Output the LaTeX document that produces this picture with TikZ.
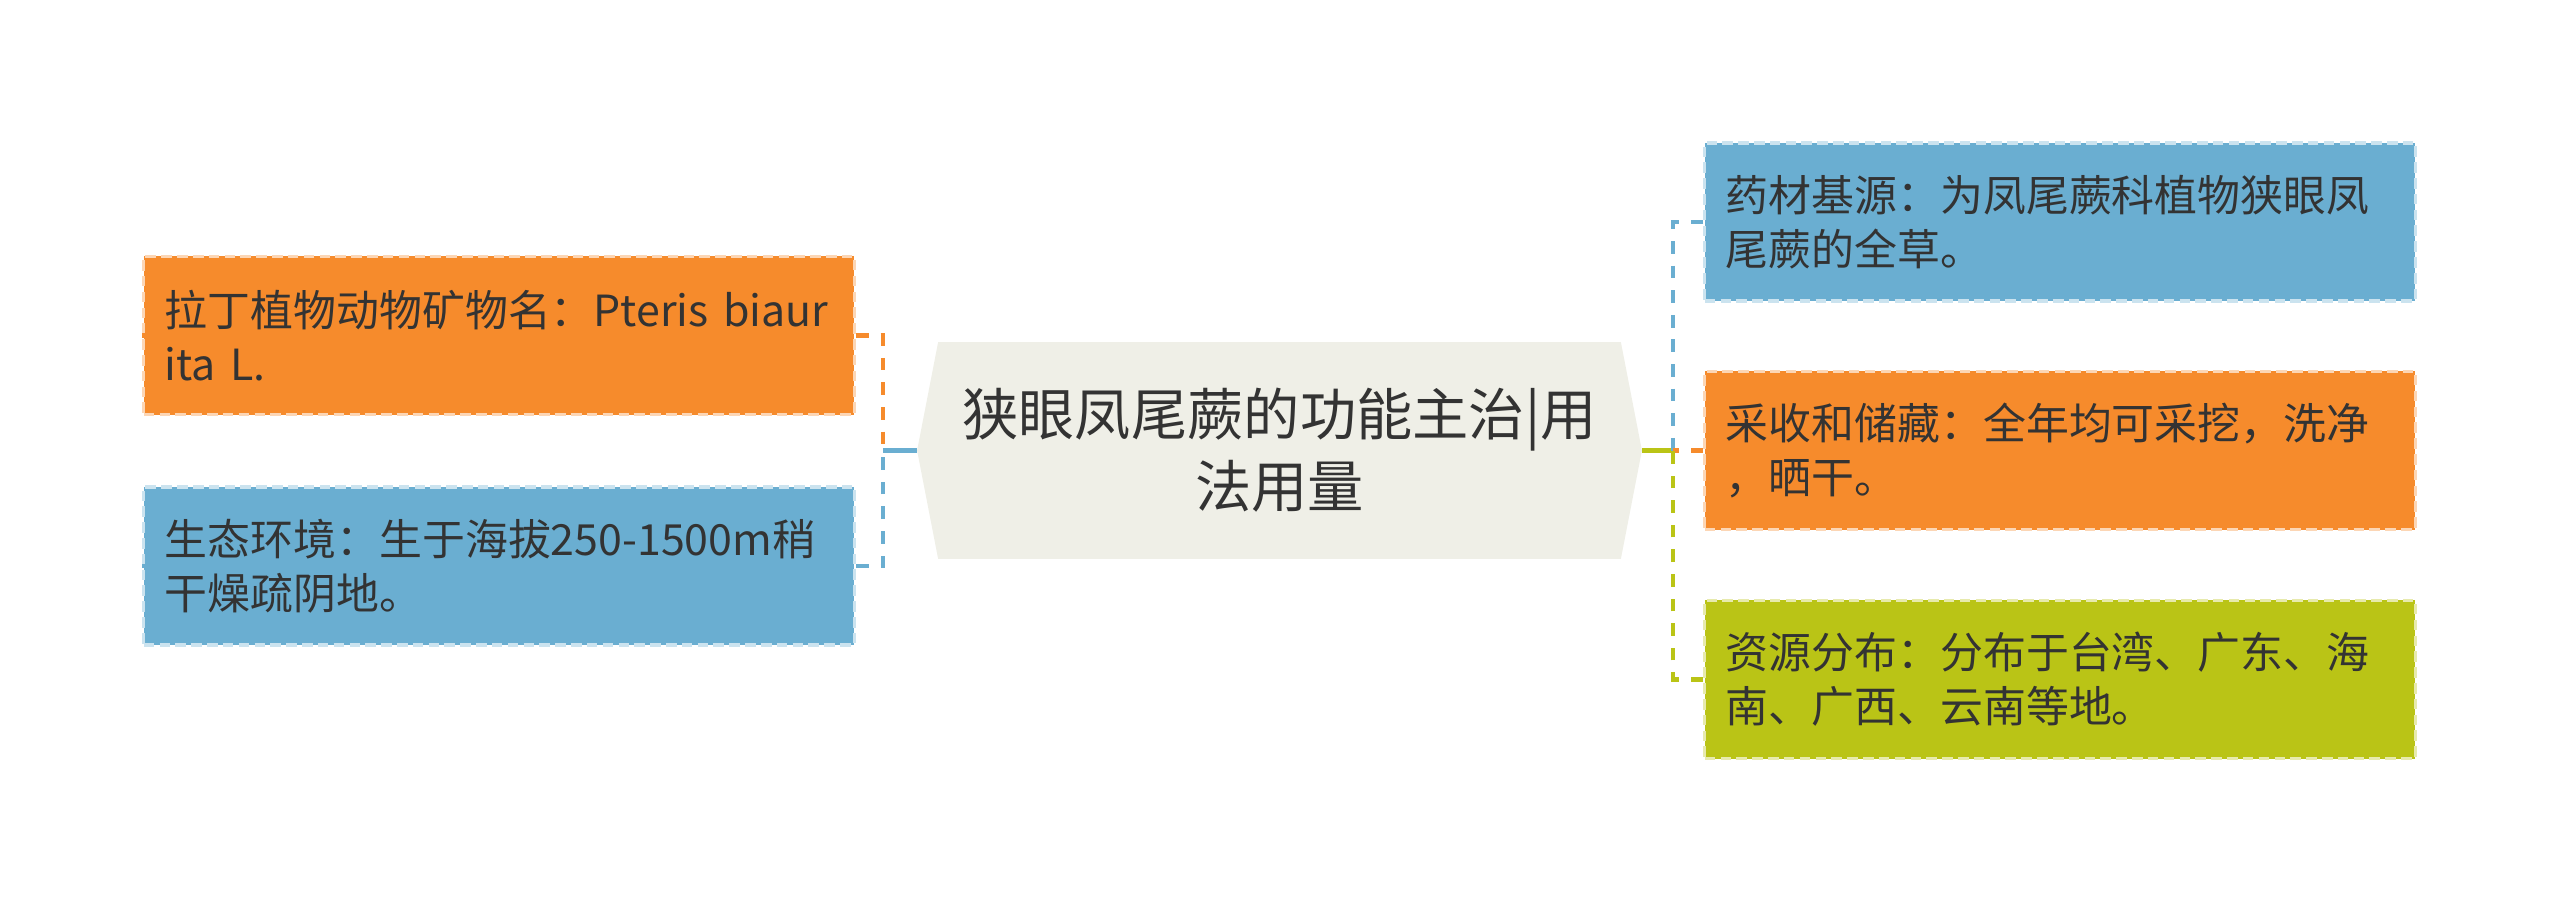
\documentclass[tikz,border=0pt]{standalone}
\usepackage{fontspec}
\setmainfont{Noto Sans CJK SC}
\usepackage{tikz}
\usetikzlibrary{calc,positioning,backgrounds}

\definecolor{leaforange}{HTML}{F68B2C}
\definecolor{leafblue}{HTML}{6AAED1}
\definecolor{leafgreen}{HTML}{BAC416}
\definecolor{rootfill}{HTML}{EFEFE7}
\definecolor{inktext}{HTML}{333333}

\tikzset{
  leaf/.style={rectangle, minimum width=7.1cm, minimum height=1.58cm, text width=6.68cm,
    inner xsep=0.21cm, align=left, text=inktext, font=\fontsize{12.2pt}{15.3pt}\selectfont,
    fill=#1, draw=#1!35!white, line width=0.9pt, dash pattern=on 3pt off 1.5pt},
  root/.style={minimum width=7.23cm, minimum height=2.15cm, align=center, text=inktext,
    font=\fontsize{16pt}{20.4pt}\selectfont},
  link/.style={draw=#1, line width=1.2pt, dash pattern=on 3.6pt off 3.4pt},
  stem/.style={draw=#1, line width=1.2pt}
}

\begin{document}
\begin{tikzpicture}[x=0.01cm, y=-0.01cm]
   \useasboundingbox (0,0) rectangle (2560,903);

   \node[root] (main) at (1279.5,450.5) {狭眼凤尾蕨的功能主治|用\\法用量};
   \begin{scope}[on background layer]
     \fill[rootfill] (main.west) -- ([xshift=0.21cm]main.north west) -- ([xshift=-0.21cm]main.north east)
        -- (main.east) -- ([xshift=-0.21cm]main.south east) -- ([xshift=0.21cm]main.south west) -- cycle;
   \end{scope}

   %left side
   \node[leaf=leaforange] (latin) at (499,335.5) {\mbox{拉丁植物动物矿物名：Pteris biaur}\\ita L.};
   \node[leaf=leafblue] (habitat) at (499,566) {生态环境：生于海拔250-1500m稍\\干燥疏阴地。};
   \coordinate (jl) at (883,450.5);

   %right side
   \node[leaf=leafblue] (source) at (2060,222) {药材基源：为凤尾蕨科植物狭眼凤\\尾蕨的全草。};
   \node[leaf=leaforange] (harvest) at (2060,450.5) {采收和储藏：全年均可采挖，洗净\\，晒干。};
   \node[leaf=leafgreen] (range) at (2060,679.5) {资源分布：分布于台湾、广东、海\\南、广西、云南等地。};
   \coordinate (jr) at (1673,450.5);

   \path[stem=leafblue] (main.west) -- (jl);
   \path[link=leaforange] (latin.west) -| (jl);
   \path[link=leafblue] (habitat.west) -| (jl);

   \path[stem=leafgreen] (main.east) -- (jr);
   \path[link=leafblue] (source.west) -| (jr);
   \path[link=leaforange] (harvest.west) -- (jr);
   \path[link=leafgreen] (range.west) -| (jr);
\end{tikzpicture}
\end{document}
